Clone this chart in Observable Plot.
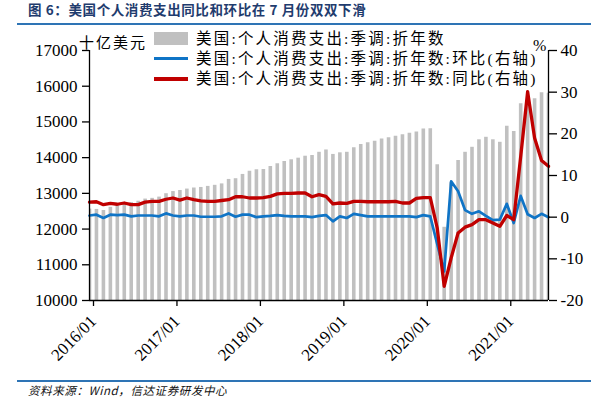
<!DOCTYPE html>
<html>
<head>
<meta charset="utf-8">
<script src="https://cdn.jsdelivr.net/npm/d3@7"></script>
<script src="https://cdn.jsdelivr.net/npm/@observablehq/plot@0.6"></script>
<style>
  html, body { margin: 0; padding: 0; background: #fff; }
  #wrap { position: relative; width: 616px; height: 397px; overflow: hidden; background: #fff; }
  #chart { position: absolute; left: 0; top: 0; }
  .ov { position: absolute; white-space: nowrap; }
  .cjk { font-family: "Liberation Serif", "Noto Sans CJK SC", serif; }
</style>
</head>
<body>
<div id="wrap">
  <div id="chart"></div>
</div>
<script>
// ---------- data ----------
const startMonth = "2016-01";
const endMonth = "2021-07";
const xTickLabels = ["2016/01", "2017/01", "2018/01", "2019/01", "2020/01", "2021/01"];
const leftTicks = [10000, 11000, 12000, 13000, 14000, 15000, 16000, 17000];
const rightTicks = [-20, -10, 0, 10, 20, 30, 40];

// 美国:个人消费支出:季调:折年数 (十亿美元)
const pce = [
  12560, 12550, 12520, 12610, 12660, 12700, 12740, 12780, 12840, 12860, 12895, 12990,
  13050, 13080, 13120, 13150, 13165, 13195, 13225, 13265, 13390, 13410, 13530, 13620,
  13660, 13670, 13750, 13830, 13890, 13940, 13985, 14040, 14060, 14150, 14215, 14090,
  14135, 14150, 14275, 14370, 14415, 14460, 14520, 14555, 14600, 14640, 14685, 14715,
  14805, 14810, 13800, 12050, 13300, 13920, 14150, 14290, 14500, 14570, 14500, 14430,
  14880, 14730, 15510, 15600, 15650, 15815, 15800
];
// 环比 (%)
const mom = [
  0.4, 0.6, -0.2, 0.6, 0.5, 0.6, 0.2, 0.4, 0.4, 0.4, 0.2, 0.9,
  0.4, 0.2, 0.4, 0.4, 0.1, 0.1, 0.1, 0.2, 0.9, 0.1, 0.6, 0.6,
  0.0, 0.2, 0.3, 0.5, 0.3, 0.2, 0.2, 0.2, 0.0, 0.3, 0.5, -1.0,
  0.2, -0.2, 0.8, 0.5, 0.2, 0.2, 0.2, 0.2, 0.2, 0.2, 0.2, 0.0,
  0.5, 0.2, -6.5, -13.0, 8.6, 6.2, 1.7, 0.8, 1.4, 0.3, -0.7, -0.6,
  3.2, -1.4, 5.1, 0.7, -0.2, 0.8, 0.0
];
// 同比 (%)
const yoy = [
  3.6, 3.7, 3.0, 3.3, 3.1, 3.4, 3.0, 3.0, 3.6, 3.8, 3.8, 4.3,
  4.6, 4.1, 4.6, 4.2, 3.9, 3.8, 3.8, 4.0, 4.2, 4.9, 4.9, 4.6,
  4.6, 4.7, 5.0, 5.6, 5.7, 5.7, 5.8, 5.8, 4.9, 5.4, 5.0, 3.2,
  3.4, 3.3, 3.8, 3.8, 3.7, 3.7, 3.7, 3.7, 3.8, 3.4, 3.4, 4.5,
  4.7, 4.7, -2.6, -16.6, -9.8, -3.8, -2.4, -1.8, -0.6, -0.6, -1.4, -2.2,
  0.4, -0.6, 14.5, 30.1, 19.0, 13.6, 12.2
];

const seriesNames = [
  "美国:个人消费支出:季调:折年数",
  "美国:个人消费支出:季调:折年数:环比(右轴)",
  "美国:个人消费支出:季调:折年数:同比(右轴)"
];
const titleText = "图 6：美国个人消费支出同比和环比在 7 月份双双下滑";
const sourceText = "资料来源：Wind，信达证券研发中心";
const leftUnit = "十亿美元";
const rightUnit = "%";

// ---------- build ----------
const fmt = d3.utcFormat("%Y/%m");
const months = d3.utcMonth.range(new Date(startMonth + "-01T00:00Z"), d3.utcMonth.offset(new Date(endMonth + "-01T00:00Z"), 1)).map(fmt);
const rightDomain = [-20, 40];
const leftDomain = [10000, 17000];
const toLeft = v => leftDomain[0] + (v - rightDomain[0]) * (leftDomain[1] - leftDomain[0]) / (rightDomain[1] - rightDomain[0]);
const fromLeft = d => rightDomain[0] + (d - leftDomain[0]) * (rightDomain[1] - rightDomain[0]) / (leftDomain[1] - leftDomain[0]);

const data = months.map((m, i) => ({m, pce: pce[i], mom: toLeft(mom[i]), yoy: toLeft(yoy[i])}));

const chart = Plot.plot({
  width: 616,
  height: 397,
  marginLeft: 89,
  marginRight: 68,
  marginTop: 50,
  marginBottom: 97,
  style: {fontFamily: '"Liberation Serif", serif', fontSize: "17px", color: "#000", background: "transparent", overflow: "visible"},
  x: {type: "point", domain: months, padding: 0},
  y: {domain: leftDomain},
  marks: [
    Plot.ruleX(data, {x: "m", y1: leftDomain[0], y2: "pce", stroke: "#c0c0c0", strokeWidth: 3.6, clip: true}),
    Plot.lineY(data, {x: "m", y: "mom", stroke: "#0f74c6", strokeWidth: 2.7}),
    Plot.lineY(data, {x: "m", y: "yoy", stroke: "#c00000", strokeWidth: 3.3}),
    Plot.ruleX([months[0], months[months.length - 1]], {stroke: "#000", strokeWidth: 1.3}),
    Plot.ruleY([leftDomain[0]], {stroke: "#000", strokeWidth: 1.3}),
    Plot.axisY({anchor: "left", ticks: leftTicks, tickFormat: d => String(d), tickSize: 7, tickPadding: 5, strokeWidth: 1.3, label: null}),
    Plot.axisY({anchor: "right", ticks: rightTicks.map(toLeft), tickFormat: d => String(Math.round(fromLeft(d))), tickSize: 8, tickPadding: 4, strokeWidth: 1.3, label: null}),
    Plot.axisX({ticks: xTickLabels, tickRotate: -45, tickSize: 6, tickPadding: 12, dx: 4, strokeWidth: 1.3, label: null})
  ]
});
document.getElementById("chart").appendChild(chart);

// ---------- overlays: title, rules, units, legend, source ----------
const wrap = document.getElementById("wrap");
function add(html, css, cls) {
  const el = document.createElement("div");
  el.className = "ov " + (cls || "");
  el.innerHTML = html;
  Object.assign(el.style, css);
  wrap.appendChild(el);
  return el;
}
add(titleText, {left: "28px", top: "0px", fontFamily: '"Noto Sans CJK SC", sans-serif', fontWeight: "bold", fontSize: "13.5px", letterSpacing: "0.6px", color: "#1f3c6e", lineHeight: "18px"});
add("", {left: "17px", top: "23px", width: "574px", height: "2px", background: "#2e74b5"});
add("", {left: "17px", top: "380px", width: "574px", height: "2px", background: "#2e74b5"});
add(sourceText, {left: "28px", top: "383px", fontFamily: '"Noto Sans CJK SC", sans-serif', fontStyle: "italic", fontSize: "11.5px", letterSpacing: "0.6px", color: "#111", lineHeight: "14px"});
add(leftUnit, {left: "79px", top: "33px", fontFamily: '"Noto Sans CJK SC", serif', fontSize: "15px", letterSpacing: "2px", color: "#000", lineHeight: "18px"});
add(rightUnit, {left: "533px", top: "38px", fontFamily: '"Liberation Serif", serif', fontSize: "16px", color: "#000", lineHeight: "15px"});

// legend
const rows = [38.5, 58.5, 79];
add("", {left: "154px", top: (rows[0] - 6.5) + "px", width: "34px", height: "13px", background: "#c0c0c0"});
add("", {left: "154px", top: (rows[1] - 1.35) + "px", width: "34px", height: "2.7px", background: "#0f74c6"});
add("", {left: "154px", top: (rows[2] - 1.65) + "px", width: "34px", height: "3.3px", background: "#c00000"});
seriesNames.forEach((s, i) => {
  add(s, {left: "196px", top: (rows[i] - 8) + "px", fontSize: "15.5px", letterSpacing: "2.2px", color: "#000", lineHeight: "16px"}, "cjk");
});
</script>
</body>
</html>
